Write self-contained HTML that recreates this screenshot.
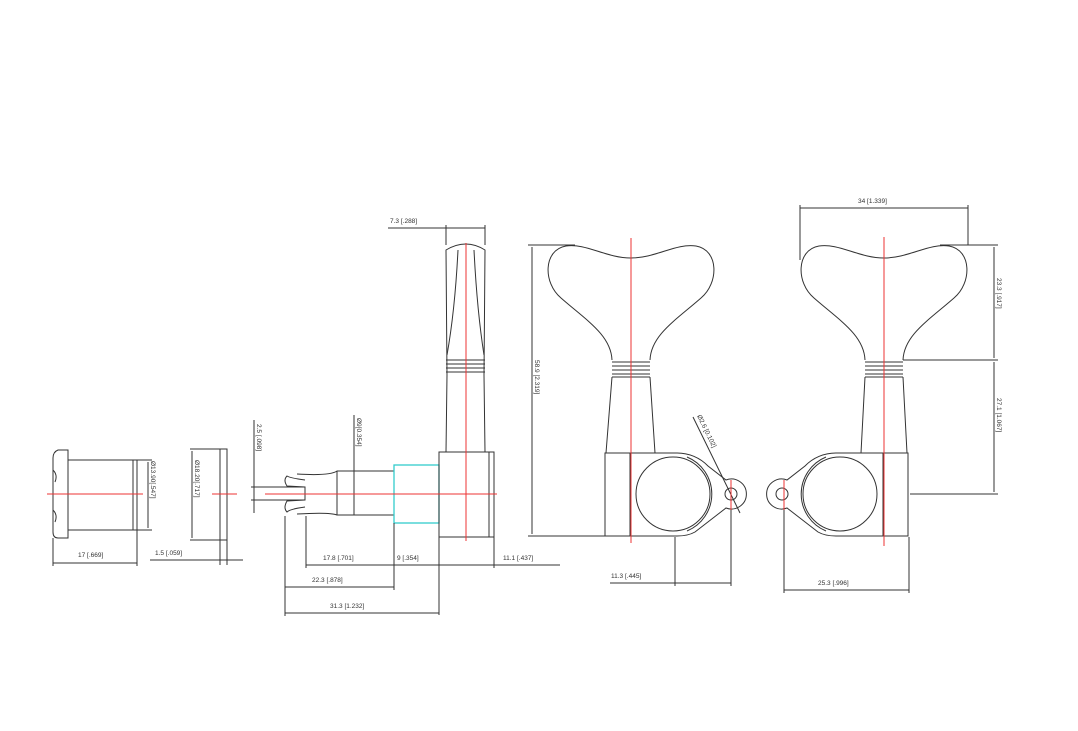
<!DOCTYPE html>
<html><head><meta charset="utf-8"><style>
html,body{margin:0;padding:0;background:#fff;}
svg{display:block;}
text{font-family:"Liberation Sans",sans-serif;font-size:6.5px;fill:#333;}
</style></head><body>
<svg width="1078" height="731" viewBox="0 0 1078 731" xmlns="http://www.w3.org/2000/svg">
<rect width="1078" height="731" fill="#fff"/>
<g fill="none" stroke="#333" stroke-width="1">
<!-- nut -->
<path d="M68,450 L58,450 Q53,452 53,458 L53,532 Q53,538 58,538 L68,538 Z"/>
<path d="M53,470 Q58,475 55,482 M53,510 Q58,515 55,522"/>
<rect x="68" y="460" width="69" height="70"/>
<line x1="133" y1="460" x2="133" y2="530"/>
<line x1="137" y1="460" x2="152" y2="460"/><line x1="137" y1="530" x2="152" y2="530"/>
<line x1="148" y1="462" x2="148" y2="528"/>
<line x1="53" y1="538" x2="53" y2="566"/><line x1="137" y1="530" x2="137" y2="566"/>
<line x1="53" y1="563" x2="137" y2="563"/>
<!-- washer -->
<line x1="190" y1="449" x2="220" y2="449"/><line x1="190" y1="540" x2="220" y2="540"/>
<line x1="192" y1="451" x2="192" y2="538"/>
<rect x="220" y="449" width="7" height="91"/>
<line x1="220" y1="540" x2="220" y2="565"/><line x1="227" y1="540" x2="227" y2="565"/>
<line x1="150" y1="560" x2="243" y2="560"/>
<!-- shaft -->
<line x1="251" y1="487" x2="262" y2="487"/><line x1="251" y1="500" x2="262" y2="500"/>
<line x1="254" y1="420" x2="254" y2="513"/>
<path d="M255,487 L305,487 L305,500 L255,500"/>
<path d="M305,480 Q290,478 287,476 Q283,480 287,486 L305,487"/>
<path d="M305,507 Q290,509 287,512 Q283,508 287,501 L305,500"/>
<path d="M297,474 Q330,476 337,471 L394,471 L394,515 L337,515 Q330,512 297,514"/>
<line x1="337" y1="471" x2="337" y2="515"/>
<line x1="354" y1="415" x2="354" y2="515"/>
<rect x="394" y="465" width="45" height="58" stroke="#3cc" stroke-width="1.3"/>
<rect x="439" y="452" width="55" height="85"/>
<line x1="489" y1="452" x2="489" y2="537"/>
<!-- side key -->
<path d="M446,452 L447,375 L446,250 Q466,238 485,250 L484,375 L485,452"/>
<path d="M446,360 L485,360 M446,364 L485,364 M446,368 L485,368 M446,372 L485,372"/>
<path d="M458,250 Q455,310 447,355 M474,250 Q477,310 484,355"/>
<line x1="446" y1="225" x2="446" y2="245"/><line x1="485" y1="225" x2="485" y2="245"/>
<line x1="388" y1="228" x2="485" y2="228"/>
<!-- bottom dims left -->
<line x1="306" y1="516" x2="306" y2="568"/>
<line x1="394" y1="523" x2="394" y2="590"/>
<line x1="439" y1="537" x2="439" y2="615"/>
<line x1="494" y1="537" x2="494" y2="568"/>
<line x1="285" y1="516" x2="285" y2="616"/>
<line x1="306" y1="565" x2="560" y2="565"/>
<line x1="285" y1="587" x2="394" y2="587"/>
<line x1="285" y1="613" x2="439" y2="613"/>
<!-- 58.9 dim -->
<line x1="528" y1="245" x2="575" y2="245"/><line x1="528" y1="536" x2="605" y2="536"/>
<line x1="532" y1="247" x2="532" y2="534"/>
<!-- middle tuner -->
<path d="M612,360 C611,335 586,320 561,298 C543,283 543,250 566,246 C586,243 606,258 631,258 C656,258 676,243 696,246 C719,250 719,283 701,298 C676,320 651,335 650,360"/>
<path d="M612,362 L650,362 M612,366 L650,366 M612,370 L650,370 M612,374 L650,374 M612,377 L650,377"/>
<path d="M612,377 L606,453 M650,377 L655,453"/>
<path d="M605,453 L677,453 A43 43 0 0 1 708,466 L726,480 A15 15 0 1 1 726,508 L695,532 Q688,536 677,536 L605,536 Z"/>
<path d="M630,453 L630,536"/>
<circle cx="673" cy="494" r="37"/>
<path d="M687,457 A40 40 0 0 1 687,531"/>
<circle cx="731" cy="494" r="6"/>
<line x1="693" y1="417" x2="740" y2="513"/>
<line x1="675" y1="537" x2="675" y2="586"/><line x1="731" y1="500" x2="731" y2="586"/>
<line x1="610" y1="583" x2="731" y2="583"/>
<!-- right tuner -->
<path d="M865,360 C864,335 839,320 814,298 C796,283 796,250 819,246 C839,243 859,258 884,258 C909,258 929,243 949,246 C972,250 972,283 954,298 C929,320 904,335 903,360"/>
<path d="M865,362 L903,362 M865,366 L903,366 M865,370 L903,370 M865,374 L903,374 M865,377 L903,377"/>
<path d="M865,377 L861,453 M903,377 L907,453"/>
<path d="M908,453 L836,453 A43 43 0 0 0 805,466 L787,480 A15 15 0 1 0 787,508 L818,532 Q825,536 836,536 L908,536 Z"/>
<path d="M883,453 L883,536"/>
<circle cx="840" cy="494" r="37"/>
<path d="M826,457 A40 40 0 0 0 826,531"/>
<circle cx="782" cy="494" r="6"/>
<line x1="800" y1="205" x2="800" y2="260"/><line x1="968" y1="205" x2="968" y2="245"/>
<line x1="800" y1="208" x2="968" y2="208"/>
<line x1="940" y1="245" x2="998" y2="245"/><line x1="903" y1="360" x2="998" y2="360"/><line x1="910" y1="494" x2="998" y2="494"/>
<line x1="994" y1="247" x2="994" y2="358"/><line x1="994" y1="362" x2="994" y2="492"/>
<line x1="784" y1="500" x2="784" y2="593"/><line x1="909" y1="537" x2="909" y2="593"/>
<line x1="784" y1="590" x2="909" y2="590"/>
</g>
<g stroke="#e33" stroke-width="1" fill="none">
<line x1="47" y1="494" x2="143" y2="494"/>
<line x1="212" y1="494" x2="237" y2="494"/>
<line x1="265" y1="494" x2="497" y2="494"/>
<line x1="466" y1="243" x2="466" y2="541"/>
<line x1="631" y1="238" x2="631" y2="543"/>
<line x1="731" y1="480" x2="731" y2="510"/>
<line x1="884" y1="237" x2="884" y2="546"/>
<line x1="784" y1="480" x2="784" y2="510"/>
</g>
<text x="78" y="557">17 [.669]</text>
<text x="155" y="555">1.5 [.059]</text>
<text x="323" y="560">17.8 [.701]</text>
<text x="397" y="560">9 [.354]</text>
<text x="503" y="560">11.1 [.437]</text>
<text x="312" y="582">22.3 [.878]</text>
<text x="330" y="608">31.3 [1.232]</text>
<text x="390" y="223">7.3 [.288]</text>
<text x="611" y="578">11.3 [.445]</text>
<text x="818" y="585">25.3 [.996]</text>
<text x="858" y="203">34 [1.339]</text>
<text transform="translate(151,461) rotate(90)">Ø13.90[.547]</text>
<text transform="translate(195,460) rotate(90)">Ø18.20[.717]</text>
<text transform="translate(257,424) rotate(90)">2.5 [.098]</text>
<text transform="translate(357,418) rotate(90)">Ø9[0.354]</text>
<text transform="translate(535,360) rotate(90)">58.9 [2.319]</text>
<text transform="translate(697,416) rotate(64)">Ø2.6 [0.102]</text>
<text transform="translate(997,278) rotate(90)">23.3 [.917]</text>
<text transform="translate(997,398) rotate(90)">27.1 [1.067]</text>
</svg>
</body></html>
